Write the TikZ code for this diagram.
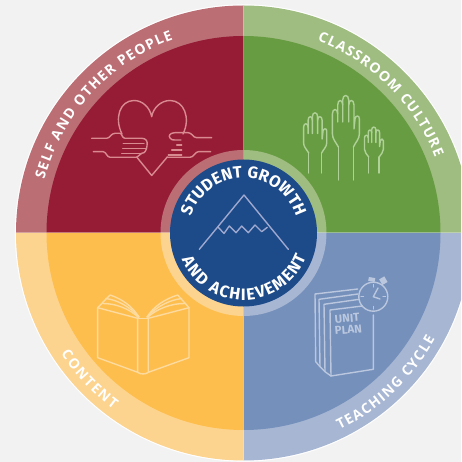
\documentclass[tikz,border=0pt]{standalone}
\usepackage{fontspec}
\usetikzlibrary{decorations.text}
\setmainfont{Fira Sans}
\newfontfamily\lblfamily{Fira Sans}[BoldFont={Fira Sans Bold}]
\newfontfamily\outerfamily{Open Sans}
\newcommand\lblouter{\outerfamily\bfseries\fontsize{14}{16}\selectfont}
\newcommand\lblinner{\lblfamily\bfseries\fontsize{16.5}{18}\selectfont}
\definecolor{bgc}{HTML}{F2F2F2}
\definecolor{redD}{HTML}{961C36}
\definecolor{redL}{HTML}{BB6F75}
\definecolor{grnD}{HTML}{689C43}
\definecolor{grnL}{HTML}{9FBD80}
\definecolor{yelD}{HTML}{FDBE4E}
\definecolor{yelL}{HTML}{FDD48F}
\definecolor{bluD}{HTML}{7490BB}
\definecolor{bluL}{HTML}{A7B6D3}
\definecolor{navy}{HTML}{1D4A88}
\definecolor{icoR}{HTML}{D98A90}
\definecolor{icoG}{HTML}{B0D198}
\definecolor{icoY}{HTML}{FDDA9E}
\definecolor{icoB}{HTML}{BAC7DE}
\definecolor{icoN}{HTML}{9FA8CF}
\newcommand\sectorfill[3]{%
  \fill[#3] (0,0) -- (#1:227.5pt) arc[start angle=#1,end angle=#1+90,radius=227.5pt] -- cycle;
  \fill[#2] (0,0) -- (#1:197pt) arc[start angle=#1,end angle=#1+90,radius=197pt] -- cycle;
  \fill[#3] (0,0) -- (#1:83pt) arc[start angle=#1,end angle=#1+90,radius=83pt] -- cycle;}
\newcommand\arclabel[5]{% radius, start, end, font, text
  \path[decorate,decoration={text along path,text align=fit to path,text color=white,
     text={|#4|#5}}]
     (#2:#1) arc[start angle=#2,end angle=#3,radius=#1];}
% raised hand: axis x, wrist-top y, xscale, yscale, wrist bottom y
\newcommand\raisedhand[5]{%
  \begin{scope}[shift={(#1,#2)},xscale=#3,yscale=#4]
    \draw[handline] (-7.3,0) .. controls (-10,-5) and (-13.3,-8) .. (-13.3,-13.3) -- (-13.3,-33)
      .. controls (-13.3,-39) and (-8,-39) .. (-8,-33) -- (-8,-25);
    \draw[handline] (-8,-33) -- (-8,-42) .. controls (-8,-48) and (-3,-48) .. (-3,-42) -- (-3,-25);
    \draw[handline] (-3,-42) -- (-3,-47) .. controls (-3,-53) and (3,-53) .. (3,-47) -- (3,-25);
    \draw[handline] (3,-47) -- (3,-42) .. controls (3,-48) and (8.3,-48) .. (8.3,-42) -- (8.3,-18)
      .. controls (8.5,-22) and (9.3,-26) .. (9.3,-28) .. controls (9.8,-32) and (13.7,-32) .. (13.7,-28)
      -- (13.7,-13.3) .. controls (13.7,-8) and (10,-5) .. (7.7,0);
  \end{scope}
  \draw[handline] (#1-7.3*#3,#2) -- (#1-7.3*#3,#5);
  \draw[handline] (#1+7.7*#3,#2) -- (#1+7.7*#3,#5);}
\begin{document}
\begin{tikzpicture}[x=1pt,y=1pt,
  iconline/.style={line width=1.4pt,line cap=round,line join=round},
  handline/.style={iconline,draw=icoG}]
\fill[bgc] (-243.5pt,-229pt) rectangle (217.5pt,233pt);
\begin{scope}
\clip (-243.5pt,-229pt) rectangle (217.5pt,233pt);
\draw[white,line width=1.2pt] (0,0) circle[radius=228pt];
\sectorfill{0}{grnD}{grnL}
\sectorfill{90}{redD}{redL}
\sectorfill{180}{yelD}{yelL}
\sectorfill{270}{bluD}{bluL}
\draw[white,opacity=.3,line width=1pt] (-227.5pt,0) -- (227.5pt,0) (0,-227.5pt) -- (0,227.5pt);
\end{scope}
\fill[navy] (0,0) circle[radius=73.5pt];

\arclabel{206pt}{165}{110}{\lblouter}{SELF AND OTHER PEOPLE}
\arclabel{206pt}{69}{21.5}{\lblouter}{CLASSROOM CULTURE}
\arclabel{219pt}{-64}{-29}{\lblouter}{TEACHING CYCLE}
\arclabel{219pt}{213.5}{233.5}{\lblouter}{CONTENT}
\arclabel{55pt}{163}{17}{\lblinner}{STUDENT GROWTH}
\arclabel{67pt}{203}{339}{\lblinner}{AND ACHIEVEMENT}

\begin{scope}[shift={(-243.5pt,233pt)},x=1pt,y=-1pt]
% mountain
\draw[iconline,icoN] (199.3,249.3) -- (244,195) -- (288.3,249.3);
\draw[iconline,icoN] (218.3,227.3) -- (224,233.5) -- (229.3,226) -- (236,232.7) -- (241.7,226) -- (248.3,232.7) -- (255,225) -- (261.7,231.7) -- (267.3,227.3);
% heart
\draw[iconline,icoR] (122,134) .. controls (114,118) and (120,100.5) .. (134,100.5) .. controls (143,100.5) and (150,108) .. (151.7,116.7) .. controls (153,108) and (161,100.5) .. (170,100.5) .. controls (184,100.5) and (191,118) .. (183,134);
\draw[iconline,icoR] (136.7,157) -- (151.7,175.5) -- (167.3,157);
% left hand
\draw[iconline,icoR] (91.7,138.3) -- (106.7,138.3) .. controls (110,138.3) and (111,133.3) .. (115,133.3) -- (120,133.3) .. controls (122,133.3) and (122,138.3) .. (125,138.3) -- (141.7,138.3) .. controls (146,138.3) and (148,141) .. (147,146) .. controls (146.5,150) and (145,153.3) .. (141.7,153.3) -- (136.7,157.3) -- (110,157.3) .. controls (107,157.3) and (106,151.7) .. (103.3,151.7) -- (93.3,151.7);
\draw[iconline,icoR] (123.3,143.3) -- (144,143.3) (122.7,148.3) -- (146,148.3) (121.7,153.3) -- (141.7,153.3);
% right hand
\draw[iconline,icoR] (211.7,137.7) -- (196.7,137.7) .. controls (193,137.7) and (192,132.7) .. (188.3,132.7) -- (175,132.7) .. controls (170,132.7) and (168,136) .. (170,138) .. controls (171,140) and (173,140) .. (175,140) -- (181,140);
\draw[iconline,icoR] (176.7,145) -- (181.7,145) (171.7,150) -- (181.7,150) (168.3,155) -- (181.7,155);
\draw[iconline,icoR] (166.7,157.3) -- (190,157.3) .. controls (194,157.3) and (195,151.7) .. (198.3,151.7) -- (210.7,151.7);
% hands
\raisedhand{345.7}{147}{1}{1}{180}
\raisedhand{315}{153}{.86}{.78}{173}
\raisedhand{373.8}{157}{.7}{.58}{173}
% book
\draw[iconline,icoY] (97.7,307.7) -- (97.7,357.7) -- (137.7,372.3) -- (137.7,318.3) -- cycle;
\draw[iconline,icoY] (189,307.7) -- (189,357.7) -- (148.3,372.3) -- (148.3,318.3) -- cycle;
\draw[iconline,icoY] (137.7,318.3) -- (148.3,318.3);
\draw[iconline,icoY] (137.7,372.3) .. controls (140,374.5) and (146,374.5) .. (148.3,372.3);
\draw[iconline,icoY] (97.7,307.7) -- (110,295) .. controls (122,299) and (132,306) .. (139,317);
\draw[iconline,icoY] (101.7,303.5) .. controls (115,303) and (130,309) .. (138.5,317.5);
\draw[iconline,icoY] (105.7,298.5) .. controls (118,300) and (130,307) .. (139,317);
\draw[iconline,icoY] (189,307.7) -- (177.7,295) .. controls (165,299) and (154,306) .. (147,317);
\draw[iconline,icoY] (185.7,303.5) .. controls (172,303) and (156,309) .. (147.5,317.5);
\draw[iconline,icoY] (181.7,298.5) .. controls (169,300) and (156,307) .. (147,317);
% unit plan sheets
\draw[iconline,icoB] (357.7,289) -- (315,294) -- (315.7,361.7) -- (320,366.7);
\draw[iconline,icoB] (358,294) -- (319,299.3) -- (320,366.7) -- (325,371.7);
\draw[iconline,icoB] (359.3,299.3) -- (324,304.3) -- (325,371.7) -- (331,376);
\draw[iconline,icoB] (362.3,306) -- (330,310) -- (331,376) -- (373.3,369.3) -- (373.3,315);
% clock
\draw[iconline,icoB] (373.3,296.7) circle[radius=14.5pt];
\draw[iconline,icoB] (378,288) -- (373.3,296.7) -- (380,299);
\draw[iconline,icoB] (373.3,284.5) -- (373.3,287) (373.3,306.5) -- (373.3,309) (361,296.7) -- (363.5,296.7) (383,296.7) -- (385.5,296.7);
\fill[icoB,rotate around={-10:(371.7,279.5)}] (368.5,277.5) rectangle (375,281.5);
\fill[icoB,rotate around={30:(383.3,281)}] (380.5,277.5) rectangle (386.5,284);
\node[text=icoB,rotate=5,anchor=base west,inner sep=0pt,font=\lblfamily\bfseries\fontsize{11.5}{12}\selectfont] (unit) at (335,323.5) {UNIT};
\node[text=icoB,rotate=5,anchor=base west,inner sep=0pt,font=\lblfamily\bfseries\fontsize{11.5}{12}\selectfont] (plan) at (335,335) {PLAN};
\end{scope}
\end{tikzpicture}
\end{document}
